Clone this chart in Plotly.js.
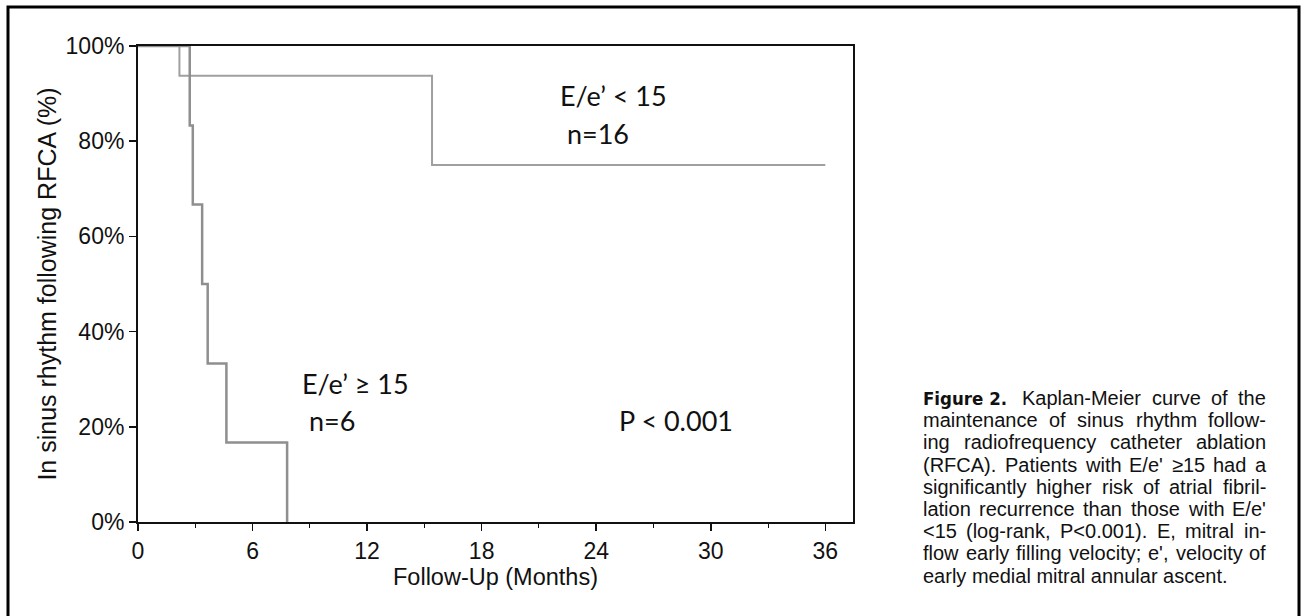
<!DOCTYPE html>
<html>
<head>
<meta charset="utf-8">
<script src="https://cdn.plot.ly/plotly-3.0.1.min.js"></script>
<style>html,body{margin:0;padding:0;background:#fff;}#chart{width:1304px;height:616px;}</style>
</head>
<body>
<div id="chart"></div>
<script>
// Kaplan-Meier data (months, % in sinus rhythm)
const lowGroupTime = [0, 2.17, 15.4, 36];
const lowGroupSurv = [100, 93.75, 75, 75];
const highGroupTime = [0, 2.71, 2.87, 3.36, 3.65, 4.63, 7.81];
const highGroupSurv = [100, 83.3, 66.7, 50, 33.3, 16.7, 0];

const xTickVals = [0, 6, 12, 18, 24, 30, 36];
const xMinorVals = [3, 9, 15, 21, 27, 33];
const yTickVals = [0, 20, 40, 60, 80, 100];
const yTickText = ['0%', '20%', '40%', '60%', '80%', '100%'];

const lowLabel = ["E/e\u2019 < 15", " n=16"];
const highLabel = ["E/e\u2019 \u2265 15", " n=6"];
const pLabel = "P < 0.001";

const captionHead = "Figure 2.";
const captionFirst = "Kaplan-Meier curve of the";
const captionLines = [
  "maintenance of sinus rhythm follow-",
  "ing radiofrequency catheter ablation",
  "(RFCA). Patients with E/e' \u226515 had a",
  "significantly higher risk of atrial fibril-",
  "lation recurrence than those with E/e'",
  "<15 (log-rank, P<0.001). E, mitral in-",
  "flow early filling velocity; e', velocity of",
  "early medial mitral annular ascent."
];

// layout geometry (pixels)
const W = 1304, H = 616;
const L = 138, R = 853, T = 46, B = 522;
const px2x = p => (p - L) / (R - L);
const py2y = p => (B - p) / (B - T);

const calib = "Lato, 'Open Sans', sans-serif";
const arial = "'Liberation Sans', Arial, sans-serif";
const capSize = 20;

const traces = [
  {x: lowGroupTime, y: lowGroupSurv, type: 'scatter', mode: 'lines',
   line: {shape: 'hv', color: '#a0a0a0', width: 2}, hoverinfo: 'skip'},
  {x: highGroupTime, y: highGroupSurv, type: 'scatter', mode: 'lines',
   line: {shape: 'hv', color: '#8f8f8f', width: 2.5}, hoverinfo: 'skip'}
];

const ann = [];
function txt(x, y, text, size, fam) {
  ann.push({x: x, y: y, xref: 'x', yref: 'y', text: text,
    showarrow: false, xanchor: 'left', yanchor: 'middle',
    font: {family: fam, size: size, color: '#111'}});
}
txt(22.0, 89.7, lowLabel[0], 27, calib);
txt(22.0, 81.7, lowLabel[1], 27, calib);
txt(8.5, 29.0, highLabel[0], 27, calib);
txt(8.5, 21.4, highLabel[1], 27, calib);
txt(25.1, 21.4, pLabel, 27, calib);

// caption, justified by placing words
const ctx = document.createElement('canvas').getContext('2d');
ctx.font = capSize + 'px "Liberation Sans"';
const capLeft = 922, capRight = 1265, capY0 = 398, capDy = 22.2;
function capWord(pxX, pxY, s, font) {
  ann.push({x: px2x(pxX), y: py2y(pxY), xref: 'paper', yref: 'paper',
    text: s, showarrow: false, xanchor: 'left', yanchor: 'middle', borderpad: 0,
    font: font || {family: arial, size: capSize, color: '#111'}});
}
function justify(line, left, right, pxY) {
  const words = line.split(' ');
  const widths = words.map(w => ctx.measureText(w).width);
  const total = widths.reduce((a, b) => a + b, 0);
  const gap = words.length > 1 ? (right - left - total) / (words.length - 1) : 0;
  let x = left;
  words.forEach((w, i) => { capWord(x, pxY, w); x += widths[i] + gap; });
}
capWord(capLeft, capY0, '<b>' + captionHead + '</b>',
  {family: "'DejaVu Sans Condensed', 'Liberation Sans Narrow', sans-serif", size: 18.5, color: '#111'});
justify(captionFirst, 1021, capRight, capY0);
captionLines.forEach((s, i) => {
  const y = capY0 + capDy * (i + 1);
  if (i < captionLines.length - 1) justify(s, capLeft, capRight, y);
  else capWord(capLeft, y, s);
});

const layout = {
  width: W, height: H,
  margin: {l: L, r: W - R, t: T, b: H - B, pad: 0},
  paper_bgcolor: '#fff', plot_bgcolor: '#fff',
  showlegend: false,
  xaxis: {
    range: [0, 37.45], tickvals: xTickVals, ticks: 'outside', ticklen: 7, tickwidth: 1.5,
    tickcolor: '#111', showline: true, linecolor: '#111', linewidth: 2, mirror: true,
    showgrid: false, zeroline: false,
    minor: {tickvals: xMinorVals, ticks: 'outside', ticklen: 4, tickcolor: '#111', tickwidth: 1},
    tickfont: {family: arial, size: 23, color: '#111'},
    title: {text: 'Follow-Up (Months)', font: {family: arial, size: 23.5, color: '#111'}, standoff: 1}
  },
  yaxis: {
    range: [0, 100], tickvals: yTickVals, ticktext: yTickText, ticks: 'outside', ticklen: 7, tickwidth: 1.5,
    tickcolor: '#111', showline: true, linecolor: '#111', linewidth: 2, mirror: true,
    showgrid: false, zeroline: false,
    tickfont: {family: arial, size: 23, color: '#111'},
    title: {text: 'In sinus rhythm following RFCA (%)', font: {family: arial, size: 25, color: '#111'}, standoff: 2}
  },
  annotations: ann,
  shapes: [
    {type: 'rect', xref: 'paper', yref: 'paper', x0: px2x(8), x1: px2x(1299), y0: py2y(640), y1: py2y(7),
     line: {color: '#000', width: 3}, fillcolor: 'rgba(0,0,0,0)'}
  ]
};

Plotly.newPlot('chart', traces, layout, {staticPlot: true});
</script>
</body>
</html>
